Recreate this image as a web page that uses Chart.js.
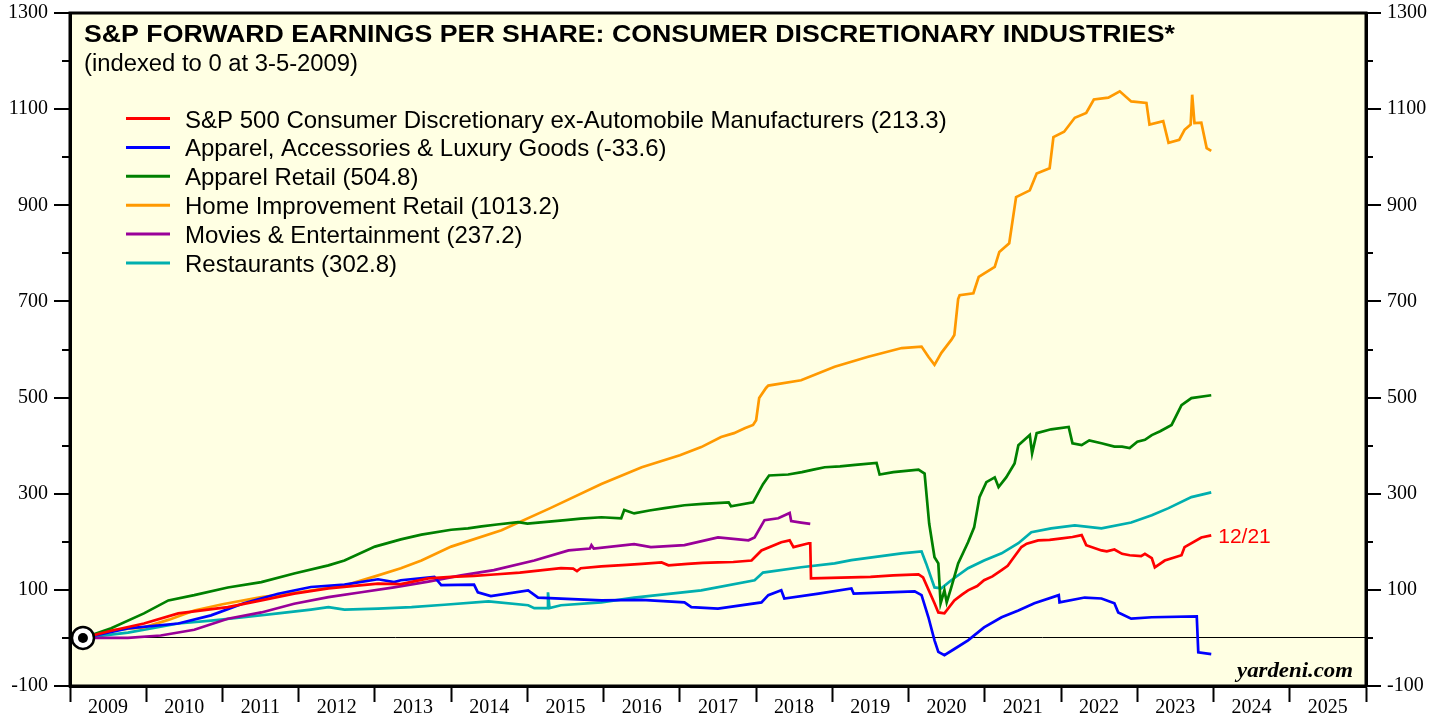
<!DOCTYPE html>
<html>
<head>
<meta charset="utf-8">
<script src="https://cdn.jsdelivr.net/npm/chart.js@4.4.1/dist/chart.umd.min.js"></script>
<style>
html,body{margin:0;padding:0;background:#fff;}
#wrap{width:1446px;height:717px;position:relative;}
</style>
</head>
<body>
<div id="wrap"><canvas id="c" width="1446" height="717"></canvas></div>
<script>
// ---- Data (x = decimal year, y = index, 0 at 3-5-2009) ----
const yearLabels = ['2009','2010','2011','2012','2013','2014','2015','2016','2017','2018','2019','2020','2021','2022','2023','2024','2025'];
const yTickLabels = ['-100','100','300','500','700','900','1100','1300'];

const seriesNames = [
  'S&P 500 Consumer Discretionary ex-Automobile Manufacturers (213.3)',
  'Apparel, Accessories & Luxury Goods (-33.6)',
  'Apparel Retail (504.8)',
  'Home Improvement Retail (1013.2)',
  'Movies & Entertainment (237.2)',
  'Restaurants (302.8)'
];

const discretionaryExAuto = [[2009.17,0],[2009.54,15],[2009.97,30],[2010.42,51],[2011.07,64],[2011.51,78],[2011.94,92],[2012.39,103],[2013.04,113],[2013.34,112],[2013.7,124],[2014.0,127],[2014.3,129],[2014.56,132],[2014.9,136],[2015.2,141],[2015.44,145],[2015.6,144],[2015.65,139],[2015.7,145],[2015.97,149],[2016.3,152],[2016.5,154],[2016.76,157],[2016.85,151],[2017.1,154],[2017.3,156],[2017.5,157],[2017.7,158],[2017.94,161],[2018.07,182],[2018.33,199],[2018.44,203],[2018.49,189],[2018.69,197],[2018.71,197],[2018.72,124],[2019.25,126],[2019.5,127],[2019.8,130],[2020.13,132],[2020.19,126],[2020.34,72],[2020.39,53],[2020.47,51],[2020.60,78],[2020.7,90],[2020.78,99],[2020.9,108],[2020.99,120],[2021.1,128],[2021.22,141],[2021.3,150],[2021.35,161],[2021.48,189],[2021.55,196],[2021.70,203],[2021.85,204],[2022.01,207],[2022.15,210],[2022.27,214],[2022.33,193],[2022.53,182],[2022.6,180],[2022.7,184],[2022.8,175],[2022.9,172],[2023.05,170],[2023.1,175],[2023.19,166],[2023.23,147],[2023.36,161],[2023.58,172],[2023.62,189],[2023.84,209],[2023.97,213.3]];

const apparelLuxury = [[2009.17,0],[2009.76,20],[2010.42,30],[2010.85,47],[2011.28,72],[2011.73,92],[2012.16,106],[2012.6,111],[2013.04,122],[2013.25,116],[2013.34,120],[2013.78,127],[2013.87,110],[2014.30,111],[2014.35,95],[2014.52,87],[2015.01,99],[2015.14,84],[2015.97,78],[2016.5,79],[2017.06,74],[2017.15,64],[2017.5,61],[2018.07,74],[2018.16,89],[2018.33,99],[2018.37,82],[2018.82,92],[2019.25,103],[2019.28,92],[2020.08,97],[2020.17,89],[2020.26,43],[2020.34,-5],[2020.39,-29],[2020.47,-36],[2020.60,-23],[2020.78,-5],[2020.99,22],[2021.22,43],[2021.44,57],[2021.65,72],[2021.97,89],[2021.98,74],[2022.31,84],[2022.53,82],[2022.70,72],[2022.75,53],[2022.92,40],[2023.19,43],[2023.78,45],[2023.80,-30],[2023.97,-33.6]];

const apparelRetail = [[2009.17,0],[2009.54,20],[2009.97,51],[2010.29,78],[2010.63,89],[2011.07,105],[2011.51,116],[2011.94,134],[2012.39,151],[2012.6,161],[2013.0,190],[2013.34,205],[2013.61,215],[2014.0,225],[2014.22,228],[2014.4,232],[2014.6,236],[2014.88,241],[2015.0,238],[2015.14,240],[2015.5,245],[2015.7,248],[2015.97,251],[2016.23,249],[2016.27,266],[2016.40,259],[2016.6,265],[2016.8,270],[2017.06,276],[2017.3,279],[2017.64,282],[2017.67,274],[2017.96,282],[2018.09,320],[2018.17,338],[2018.42,340],[2018.6,345],[2018.75,350],[2018.90,355],[2019.1,357],[2019.3,360],[2019.58,364],[2019.62,340],[2019.8,345],[2020.0,348],[2020.13,350],[2020.21,342],[2020.27,238],[2020.34,168],[2020.39,155],[2020.42,72],[2020.47,99],[2020.50,74],[2020.56,105],[2020.65,155],[2020.78,199],[2020.86,230],[2020.93,293],[2021.02,324],[2021.13,334],[2021.18,314],[2021.28,334],[2021.39,363],[2021.44,401],[2021.59,422],[2021.62,384],[2021.68,426],[2021.87,434],[2022.10,439],[2022.15,405],[2022.27,401],[2022.37,411],[2022.53,405],[2022.7,398],[2022.8,398],[2022.9,395],[2023.0,408],[2023.1,412],[2023.19,422],[2023.3,430],[2023.45,443],[2023.58,484],[2023.71,499],[2023.97,504.8]];

const homeImprovement = [[2009.17,0],[2009.54,16],[2009.97,22],[2010.3,38],[2010.63,57],[2011.0,70],[2011.51,85],[2012.0,95],[2012.6,109],[2013.0,128],[2013.34,145],[2013.61,161],[2014.0,190],[2014.66,224],[2015.3,270],[2015.97,320],[2016.5,355],[2017.0,380],[2017.28,397],[2017.54,418],[2017.71,426],[2017.85,436],[2017.96,443],[2018.0,453],[2018.04,499],[2018.13,520],[2018.16,525],[2018.59,536],[2019.03,564],[2019.47,585],[2019.91,603],[2020.17,606],[2020.26,585],[2020.34,568],[2020.43,593],[2020.56,620],[2020.60,630],[2020.65,705],[2020.67,713],[2020.85,717],[2020.92,751],[2021.13,772],[2021.19,803],[2021.32,821],[2021.41,917],[2021.59,931],[2021.68,966],[2021.85,977],[2021.90,1042],[2022.04,1053],[2022.18,1082],[2022.33,1092],[2022.43,1120],[2022.62,1124],[2022.77,1137],[2022.92,1116],[2023.12,1113],[2023.16,1068],[2023.34,1075],[2023.41,1030],[2023.55,1036],[2023.62,1057],[2023.70,1068],[2023.72,1130],[2023.75,1071],[2023.84,1072],[2023.91,1019],[2023.97,1013.2]];

const moviesEntertainment = [[2009.17,0],[2009.76,0],[2010.19,5],[2010.63,17],[2011.07,40],[2011.51,53],[2011.94,71],[2012.39,85],[2012.82,95],[2013.25,105],[2013.70,117],[2014.13,130],[2014.56,141],[2015.09,161],[2015.54,182],[2015.82,186],[2015.84,193],[2015.87,186],[2016.40,195],[2016.62,189],[2017.06,193],[2017.50,209],[2017.90,203],[2017.98,209],[2018.11,245],[2018.29,249],[2018.44,260],[2018.46,243],[2018.59,240],[2018.71,237.2]];

const restaurants = [[2009.17,0],[2009.76,11],[2010.42,30],[2010.85,36],[2011.28,43],[2011.73,51],[2012.16,59],[2012.39,64],[2012.6,59],[2013.04,61],[2013.48,64],[2013.91,69],[2014.49,76],[2015.01,68],[2015.09,62],[2015.26,62],[2015.27,95],[2015.29,62],[2015.44,68],[2015.97,74],[2016.40,84],[2017.28,99],[2017.98,120],[2018.09,136],[2018.59,147],[2019.03,155],[2019.25,162],[2019.91,176],[2020.17,180],[2020.23,155],[2020.34,105],[2020.43,103],[2020.56,120],[2020.78,145],[2020.99,161],[2021.22,176],[2021.44,197],[2021.61,220],[2021.87,228],[2022.18,234],[2022.53,228],[2022.92,240],[2023.19,255],[2023.41,270],[2023.71,293],[2023.97,302.8]];

const indexPoint = [2009.17, 0];
const lastDateLabel = '12/21';
const titleText = 'S&P FORWARD EARNINGS PER SHARE: CONSUMER DISCRETIONARY INDUSTRIES*';
const subtitleText = '(indexed to 0 at 3-5-2009)';
const sourceText = 'yardeni.com';

// ---- Styling ----
const colors = ['#FF0000','#0000FF','#008000','#FF9900','#990099','#00AFAF'];
const seriesData = [discretionaryExAuto, apparelLuxury, apparelRetail, homeImprovement, moviesEntertainment, restaurants];
const serif = '"Liberation Serif","Times New Roman",serif';
const sans = '"Liberation Sans",Arial,Helvetica,sans-serif';

function fitText(ctx, text, x, y, font, color, targetW) {
  ctx.save();
  ctx.font = font;
  ctx.fillStyle = color;
  ctx.textBaseline = 'alphabetic';
  ctx.textAlign = 'left';
  let sx = 1;
  if (targetW) sx = targetW / ctx.measureText(text).width;
  ctx.translate(x, y);
  ctx.scale(sx, 1);
  ctx.fillText(text, 0, 0);
  ctx.restore();
}

const backgroundPlugin = {
  id: 'bg',
  beforeDraw(chart) {
    const {ctx, chartArea: a} = chart;
    ctx.save();
    ctx.fillStyle = '#FFFFE3';
    ctx.fillRect(a.left, a.top, a.right - a.left, a.bottom - a.top);
    ctx.restore();
  }
};

const decorPlugin = {
  id: 'decor',
  afterDraw(chart) {
    const {ctx, chartArea: a} = chart;
    const ys = chart.scales.y, xs = chart.scales.x;
    ctx.save();
    ctx.strokeStyle = '#000';
    ctx.lineWidth = 3;
    ctx.strokeRect(a.left, a.top, a.right - a.left, a.bottom - a.top);
    ctx.lineWidth = 2;
    for (let v = -100; v <= 1300; v += 100) {
      const py = Math.round(ys.getPixelForValue(v));
      const major = yTickLabels.includes(String(v));
      ctx.beginPath();
      ctx.moveTo(a.left - (major ? 16 : 8), py);
      ctx.lineTo(a.left, py);
      ctx.moveTo(a.right, py);
      ctx.lineTo(a.right + (major ? 15 : 7), py);
      ctx.stroke();
    }
    ctx.restore();

    fitText(ctx, titleText, 84, 42, 'bold 23px ' + sans, '#000', 1091);
    fitText(ctx, subtitleText, 84, 71, '23px ' + sans, '#000', 274);

    ctx.save();
    for (let i = 0; i < seriesNames.length; i++) {
      const ly = 118.5 + i * 28.9;
      ctx.strokeStyle = colors[i];
      ctx.lineWidth = 3;
      ctx.beginPath();
      ctx.moveTo(126, ly);
      ctx.lineTo(170, ly);
      ctx.stroke();
      fitText(ctx, seriesNames[i], 185, ly + 9, '24px ' + sans, '#000', null);
    }
    ctx.restore();

    const last = discretionaryExAuto[discretionaryExAuto.length - 1];
    const lx = xs.getPixelForValue(last[0]) + 7;
    const lyy = ys.getPixelForValue(last[1]) + 8;
    fitText(ctx, lastDateLabel, lx, lyy, '21px ' + sans, '#FF0000', null);

    fitText(ctx, sourceText, 1237, 677, 'italic bold 20px ' + serif, '#000', 116);

    const mx = xs.getPixelForValue(indexPoint[0]);
    const my = ys.getPixelForValue(indexPoint[1]);
    ctx.save();
    ctx.beginPath();
    ctx.arc(mx, my, 11, 0, Math.PI * 2);
    ctx.fillStyle = '#fff';
    ctx.fill();
    ctx.lineWidth = 2.5;
    ctx.strokeStyle = '#000';
    ctx.stroke();
    ctx.beginPath();
    ctx.arc(mx, my, 5, 0, Math.PI * 2);
    ctx.fillStyle = '#000';
    ctx.fill();
    ctx.restore();
  }
};

const datasets = seriesData.map((arr, i) => ({
  label: seriesNames[i],
  data: arr.map(p => ({x: p[0], y: p[1]})),
  borderColor: colors[i],
  backgroundColor: colors[i],
  borderWidth: 2.7,
  pointRadius: 0,
  tension: 0,
  fill: false
}));

const tickFont = {family: serif, size: 20};
function zeroPad(s) { s.paddingTop = 0; s.paddingBottom = 0; s.paddingLeft = 0; s.paddingRight = 0; }

new Chart(document.getElementById('c'), {
  type: 'line',
  data: {datasets},
  plugins: [backgroundPlugin, decorPlugin],
  options: {
    responsive: false,
    animation: false,
    devicePixelRatio: 1,
    layout: {padding: {top: 13, left: 0, right: 0, bottom: 0}},
    plugins: {legend: {display: false}, tooltip: {enabled: false}, title: {display: false}},
    scales: {
      x: {
        type: 'linear', min: 2009, max: 2026,
        afterFit(s) { s.height = 31; zeroPad(s); },
        ticks: {
          stepSize: 1, autoSkip: false, maxRotation: 0, minRotation: 0,
          labelOffset: 38, padding: -6, color: '#000', font: tickFont,
          callback: (v) => yearLabels[Math.round(v) - 2009] ?? ''
        },
        grid: {drawOnChartArea: false, drawTicks: true, tickLength: 16, tickWidth: 2, tickColor: '#000'},
        border: {display: true, color: '#000', width: 3}
      },
      y: {
        type: 'linear', position: 'left', min: -100, max: 1300,
        afterFit(s) { s.width = 70; zeroPad(s); },
        ticks: {
          stepSize: 100, autoSkip: false, padding: 22, color: '#000', font: tickFont,
          callback: (v) => yTickLabels.includes(String(v)) ? String(v) : ''
        },
        grid: {drawTicks: false, lineWidth: 1, color: (c) => (c.tick && c.tick.value === 0) ? '#000' : 'rgba(0,0,0,0)'},
        border: {display: true, color: '#000', width: 3}
      },
      y2: {
        type: 'linear', position: 'right', min: -100, max: 1300,
        afterFit(s) { s.width = 80; zeroPad(s); },
        ticks: {
          stepSize: 100, autoSkip: false, padding: 21, color: '#000', font: tickFont,
          callback: (v) => yTickLabels.includes(String(v)) ? String(v) : ''
        },
        grid: {drawTicks: false, drawOnChartArea: false, color: 'rgba(0,0,0,0)'},
        border: {display: true, color: '#000', width: 3}
      }
    }
  }
});
</script>
</body>
</html>
